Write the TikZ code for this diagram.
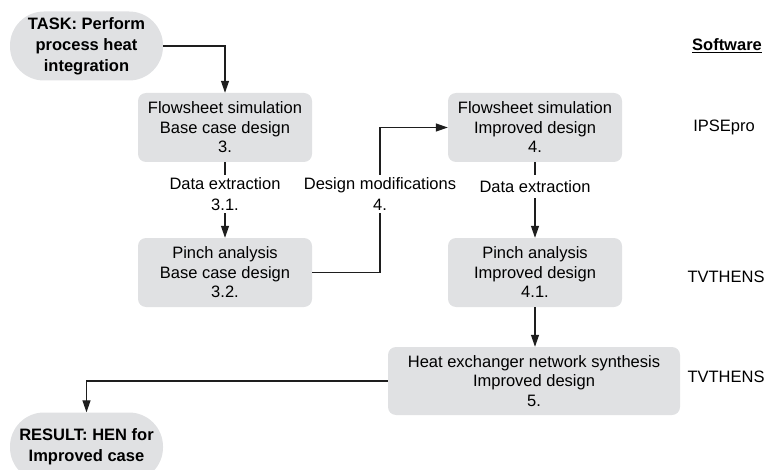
\documentclass[tikz,border=0pt]{standalone}
\usepackage{fontspec}
\setmainfont{Liberation Sans}
\usetikzlibrary{arrows.meta}
\definecolor{boxgray}{RGB}{224,225,227}
\definecolor{inkline}{RGB}{30,30,30}
\tikzset{
  stagebox/.style={fill=boxgray, rounded corners=8pt, minimum width=174pt,
    minimum height=69pt, align=center, inner sep=0pt,
    font=\fontsize{16.5}{19.5}\selectfont},
  terminal/.style={fill=boxgray, rounded corners=34pt, minimum width=153pt,
    minimum height=69pt, align=center, inner sep=0pt,
    font=\fontsize{16.5}{21}\selectfont\bfseries},
  flow/.style={draw=inkline, line width=1.2pt, -{Triangle[width=8pt,length=12pt]}},
  plain/.style={draw=inkline, line width=1.2pt},
  steplabel/.style={align=center, inner xsep=2pt, inner ysep=0pt,
    font=\fontsize{16.5}{21}\selectfont},
  tool/.style={font=\fontsize{16.5}{19.5}\selectfont, inner sep=0pt}
}
\begin{document}
\begin{tikzpicture}[x=1pt, y=-1pt]
  \useasboundingbox (0,0) rectangle (767,470);

  % start and end terminals
  \node[terminal] (task) at (86.5,46) {TASK: Perform\\process heat\\integration};
  \node[terminal] (res) at (86.5,447) {RESULT: HEN for\\Improved case};

  % process stages
  \node[stagebox] (b1) at (225,127.5) {Flowsheet simulation\\Base case design\\3.};
  \node[stagebox] (b2) at (225,272.5) {Pinch analysis\\Base case design\\3.2.};
  \node[stagebox] (b3) at (535,127.5) {Flowsheet simulation\\Improved design\\4.};
  \node[stagebox] (b4) at (535,272.5) {Pinch analysis\\Improved design\\4.1.};
  \node[stagebox, minimum width=292pt, minimum height=68pt] (b5) at (534,381)
    {Heat exchanger network synthesis\\Improved design\\5.};

  % connector labels
  \node[steplabel, minimum height=38pt] (l1) at (225,194) {Data extraction\\3.1.};
  \node[steplabel, minimum height=38pt] (l2) at (380,194) {Design modifications\\4.};
  \node[steplabel, minimum height=23pt] (l3) at (535,186.5) {Data extraction};

  % connectors
  \draw[flow] (task.east) -| (b1.north);
  \draw[plain] (b1.south) -- (l1.north);
  \draw[flow] (l1.south) -- (b2.north);
  \draw[plain] (b2.east) -| (l2.south);
  \draw[flow] (l2.north) |- (b3.west);
  \draw[plain] (b3.south) -- (l3.north);
  \draw[flow] (l3.south) -- (b4.north);
  \draw[flow] (b4.south) -- (b4.south |- b5.north);
  \draw[flow] (b5.west) -| (res.north);

  % software column
  \node[tool, font=\fontsize{16.5}{19.5}\selectfont\bfseries] (sw) at (727,46) {\underline{Software}};
  \node[tool] (ips) at (724,127) {IPSEpro};
  \node[tool] (tv1) at (726,277) {TVTHENS};
  \node[tool] (tv2) at (726,377) {TVTHENS};
\end{tikzpicture}
\end{document}
